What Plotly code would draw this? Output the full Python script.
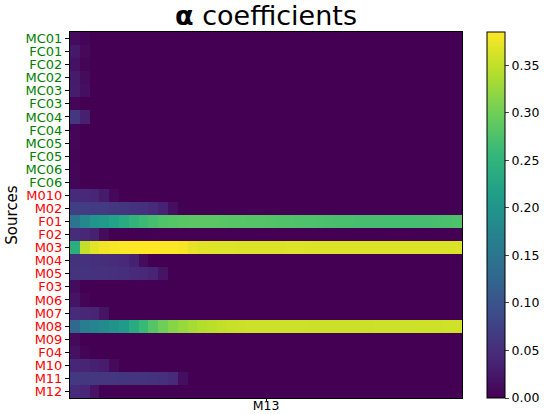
import plotly.graph_objects as go

# sources (rows), top to bottom
sources = ["MC01", "FC01", "FC02", "MC02", "MC03", "FC03", "MC04", "FC04",
           "MC05", "FC05", "MC06", "FC06", "M010", "M02", "F01", "F02",
           "M03", "M04", "M05", "F03", "M06", "M07", "M08", "M09",
           "F04", "M10", "M11", "M12"]
x_tick_labels = ["M13"]

# alpha coefficient per source over the 40 frames
MC01 = [0.012, 0.003, 0, 0, 0, 0, 0, 0, 0, 0, 0, 0, 0, 0, 0, 0, 0, 0, 0, 0,
        0, 0, 0, 0, 0, 0, 0, 0, 0, 0, 0, 0, 0, 0, 0, 0, 0, 0, 0, 0]
FC01 = [0.025, 0.008, 0, 0, 0, 0, 0, 0, 0, 0, 0, 0, 0, 0, 0, 0, 0, 0, 0, 0,
        0, 0, 0, 0, 0, 0, 0, 0, 0, 0, 0, 0, 0, 0, 0, 0, 0, 0, 0, 0]
FC02 = [0.018, 0.004, 0, 0, 0, 0, 0, 0, 0, 0, 0, 0, 0, 0, 0, 0, 0, 0, 0, 0,
        0, 0, 0, 0, 0, 0, 0, 0, 0, 0, 0, 0, 0, 0, 0, 0, 0, 0, 0, 0]
MC02 = [0.028, 0.012, 0, 0, 0, 0, 0, 0, 0, 0, 0, 0, 0, 0, 0, 0, 0, 0, 0, 0,
        0, 0, 0, 0, 0, 0, 0, 0, 0, 0, 0, 0, 0, 0, 0, 0, 0, 0, 0, 0]
MC03 = [0.03, 0.015, 0, 0, 0, 0, 0, 0, 0, 0, 0, 0, 0, 0, 0, 0, 0, 0, 0, 0,
        0, 0, 0, 0, 0, 0, 0, 0, 0, 0, 0, 0, 0, 0, 0, 0, 0, 0, 0, 0]
FC03 = [0.006, 0, 0, 0, 0, 0, 0, 0, 0, 0, 0, 0, 0, 0, 0, 0, 0, 0, 0, 0,
        0, 0, 0, 0, 0, 0, 0, 0, 0, 0, 0, 0, 0, 0, 0, 0, 0, 0, 0, 0]
MC04 = [0.062, 0.035, 0, 0, 0, 0, 0, 0, 0, 0, 0, 0, 0, 0, 0, 0, 0, 0, 0, 0,
        0, 0, 0, 0, 0, 0, 0, 0, 0, 0, 0, 0, 0, 0, 0, 0, 0, 0, 0, 0]
FC04 = [0.006, 0, 0, 0, 0, 0, 0, 0, 0, 0, 0, 0, 0, 0, 0, 0, 0, 0, 0, 0,
        0, 0, 0, 0, 0, 0, 0, 0, 0, 0, 0, 0, 0, 0, 0, 0, 0, 0, 0, 0]
MC05 = [0.006, 0, 0, 0, 0, 0, 0, 0, 0, 0, 0, 0, 0, 0, 0, 0, 0, 0, 0, 0,
        0, 0, 0, 0, 0, 0, 0, 0, 0, 0, 0, 0, 0, 0, 0, 0, 0, 0, 0, 0]
FC05 = [0.004, 0, 0, 0, 0, 0, 0, 0, 0, 0, 0, 0, 0, 0, 0, 0, 0, 0, 0, 0,
        0, 0, 0, 0, 0, 0, 0, 0, 0, 0, 0, 0, 0, 0, 0, 0, 0, 0, 0, 0]
MC06 = [0.006, 0, 0, 0, 0, 0, 0, 0, 0, 0, 0, 0, 0, 0, 0, 0, 0, 0, 0, 0,
        0, 0, 0, 0, 0, 0, 0, 0, 0, 0, 0, 0, 0, 0, 0, 0, 0, 0, 0, 0]
FC06 = [0.005, 0, 0, 0, 0, 0, 0, 0, 0, 0, 0, 0, 0, 0, 0, 0, 0, 0, 0, 0,
        0, 0, 0, 0, 0, 0, 0, 0, 0, 0, 0, 0, 0, 0, 0, 0, 0, 0, 0, 0]
M010 = [0.045, 0.043, 0.04, 0.028, 0.008, 0, 0, 0, 0, 0, 0, 0, 0, 0, 0, 0, 0, 0, 0, 0,
        0, 0, 0, 0, 0, 0, 0, 0, 0, 0, 0, 0, 0, 0, 0, 0, 0, 0, 0, 0]
M02 = [0.072, 0.07, 0.068, 0.066, 0.064, 0.06, 0.056, 0.052, 0.046, 0.036, 0.015, 0, 0, 0, 0, 0, 0, 0, 0, 0,
       0, 0, 0, 0, 0, 0, 0, 0, 0, 0, 0, 0, 0, 0, 0, 0, 0, 0, 0, 0]
F01 = [0.15, 0.18, 0.2, 0.21, 0.22, 0.235, 0.25, 0.262, 0.27, 0.277, 0.281, 0.284, 0.285, 0.285, 0.285, 0.284, 0.283, 0.282, 0.281, 0.28,
       0.279, 0.278, 0.277, 0.276, 0.275, 0.274, 0.273, 0.272, 0.271, 0.27, 0.27, 0.27, 0.269, 0.269, 0.269, 0.27, 0.27, 0.271, 0.273, 0.276]
F02 = [0.048, 0.042, 0.035, 0.012, 0, 0, 0, 0, 0, 0, 0, 0, 0, 0, 0, 0, 0, 0, 0, 0,
       0, 0, 0, 0, 0, 0, 0, 0, 0, 0, 0, 0, 0, 0, 0, 0, 0, 0, 0, 0]
M03 = [0.24, 0.35, 0.37, 0.377, 0.381, 0.383, 0.384, 0.385, 0.385, 0.384, 0.383, 0.381, 0.372, 0.368, 0.367, 0.366, 0.366, 0.365, 0.365, 0.365,
       0.365, 0.365, 0.366, 0.366, 0.365, 0.365, 0.364, 0.364, 0.365, 0.365, 0.365, 0.365, 0.364, 0.364, 0.365, 0.365, 0.365, 0.365, 0.364, 0.364]
M04 = [0.056, 0.055, 0.053, 0.051, 0.048, 0.044, 0.035, 0.012, 0, 0, 0, 0, 0, 0, 0, 0, 0, 0, 0, 0,
       0, 0, 0, 0, 0, 0, 0, 0, 0, 0, 0, 0, 0, 0, 0, 0, 0, 0, 0, 0]
M05 = [0.058, 0.057, 0.055, 0.054, 0.052, 0.05, 0.047, 0.044, 0.038, 0.02, 0, 0, 0, 0, 0, 0, 0, 0, 0, 0,
       0, 0, 0, 0, 0, 0, 0, 0, 0, 0, 0, 0, 0, 0, 0, 0, 0, 0, 0, 0]
F03 = [0.012, 0, 0, 0, 0, 0, 0, 0, 0, 0, 0, 0, 0, 0, 0, 0, 0, 0, 0, 0,
       0, 0, 0, 0, 0, 0, 0, 0, 0, 0, 0, 0, 0, 0, 0, 0, 0, 0, 0, 0]
M06 = [0.02, 0.004, 0, 0, 0, 0, 0, 0, 0, 0, 0, 0, 0, 0, 0, 0, 0, 0, 0, 0,
       0, 0, 0, 0, 0, 0, 0, 0, 0, 0, 0, 0, 0, 0, 0, 0, 0, 0, 0, 0]
M07 = [0.045, 0.042, 0.038, 0.02, 0, 0, 0, 0, 0, 0, 0, 0, 0, 0, 0, 0, 0, 0, 0, 0,
       0, 0, 0, 0, 0, 0, 0, 0, 0, 0, 0, 0, 0, 0, 0, 0, 0, 0, 0, 0]
M08 = [0.13, 0.165, 0.175, 0.185, 0.195, 0.21, 0.235, 0.26, 0.28, 0.3, 0.315, 0.325, 0.333, 0.34, 0.345, 0.35, 0.353, 0.355, 0.356, 0.356,
       0.356, 0.356, 0.356, 0.356, 0.355, 0.355, 0.355, 0.355, 0.355, 0.355, 0.355, 0.356, 0.356, 0.356, 0.356, 0.357, 0.357, 0.357, 0.358, 0.358]
M09 = [0.01, 0, 0, 0, 0, 0, 0, 0, 0, 0, 0, 0, 0, 0, 0, 0, 0, 0, 0, 0,
       0, 0, 0, 0, 0, 0, 0, 0, 0, 0, 0, 0, 0, 0, 0, 0, 0, 0, 0, 0]
F04 = [0.018, 0.003, 0, 0, 0, 0, 0, 0, 0, 0, 0, 0, 0, 0, 0, 0, 0, 0, 0, 0,
       0, 0, 0, 0, 0, 0, 0, 0, 0, 0, 0, 0, 0, 0, 0, 0, 0, 0, 0, 0]
M10 = [0.04, 0.038, 0.035, 0.03, 0.01, 0, 0, 0, 0, 0, 0, 0, 0, 0, 0, 0, 0, 0, 0, 0,
       0, 0, 0, 0, 0, 0, 0, 0, 0, 0, 0, 0, 0, 0, 0, 0, 0, 0, 0, 0]
M11 = [0.065, 0.064, 0.063, 0.062, 0.061, 0.06, 0.059, 0.058, 0.056, 0.052, 0.045, 0.015, 0, 0, 0, 0, 0, 0, 0, 0,
       0, 0, 0, 0, 0, 0, 0, 0, 0, 0, 0, 0, 0, 0, 0, 0, 0, 0, 0, 0]
M12 = [0.045, 0.04, 0.02, 0, 0, 0, 0, 0, 0, 0, 0, 0, 0, 0, 0, 0, 0, 0, 0, 0,
       0, 0, 0, 0, 0, 0, 0, 0, 0, 0, 0, 0, 0, 0, 0, 0, 0, 0, 0, 0]

z = [MC01, FC01, FC02, MC02, MC03, FC03, MC04, FC04, MC05, FC05, MC06, FC06,
     M010, M02, F01, F02, M03, M04, M05, F03, M06, M07, M08, M09,
     F04, M10, M11, M12]
n_cols = len(M03)
for row in z:
    assert len(row) == n_cols

# control sources (with C) in green, others in red
ticktext = ['<span style="color:%s">%s</span>' % ("#008000" if "C" in s else "#ff0000", s)
            for s in sources]

fig = go.Figure(go.Heatmap(
    z=z, y=sources, colorscale="Viridis", zmin=0,
    colorbar=dict(
        x=1.0638, xanchor="left", xpad=0, y=0.5, len=1, yanchor="middle",
        ypad=0, thickness=18, outlinewidth=1, outlinecolor="black",
        tickvals=[0, 0.05, 0.1, 0.15, 0.2, 0.25, 0.3, 0.35],
        tickformat=".2f", ticks="outside", ticklen=4,
        tickfont=dict(size=12.5, color="black"))))

fig.update_xaxes(
    range=[-0.5, n_cols - 0.5],
    tickvals=[(n_cols - 1) / 2], ticktext=x_tick_labels,
    ticks="outside", ticklen=2, tickcolor="black", ticklabelstandoff=-6,
    tickfont=dict(size=12.5, color="black"),
    showline=True, mirror=True, linecolor="black", linewidth=1,
    showgrid=False, zeroline=False, automargin=False)
fig.update_yaxes(
    autorange="reversed",
    tickvals=sources, ticktext=ticktext,
    ticks="outside", ticklen=4, tickcolor="black",
    tickfont=dict(size=13),
    title_text="Sources", title_font=dict(size=15, color="black"), title_standoff=4,
    showline=True, mirror=True, linecolor="black", linewidth=1,
    showgrid=False, automargin=False)

fig.update_layout(
    width=546, height=414,
    margin=dict(l=70, r=84, t=32, b=16, autoexpand=False),
    paper_bgcolor="white", plot_bgcolor="white",
    font_family="DejaVu Sans",
    title=dict(text="<b>α</b> coefficients", x=(70 + 462) / 2 / 546, xanchor="center",
               y=0.962, yanchor="middle", font=dict(size=27, color="black")))

# drop the default page margin so the figure sits at the window's corner
fig.write_html("out.html", config={"displayModeBar": False},
               post_script="document.body.style.margin='0px';")
